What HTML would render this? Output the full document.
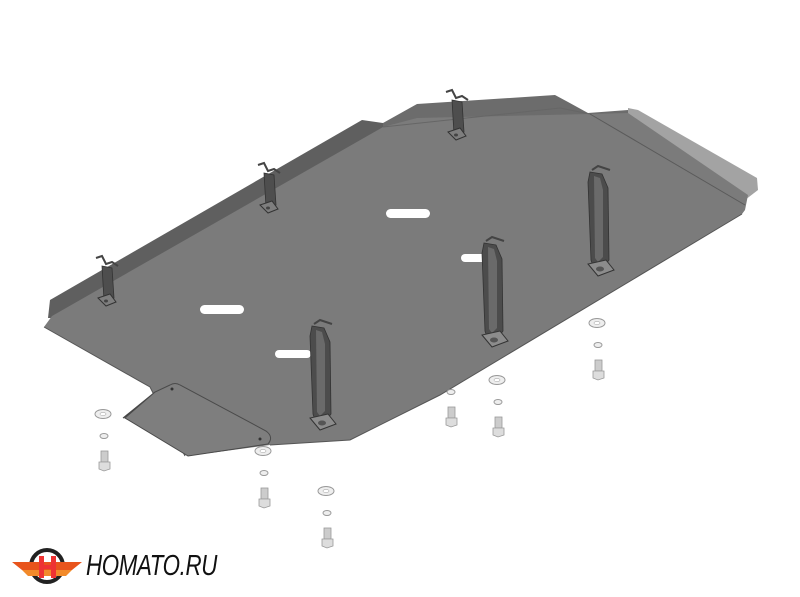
<!DOCTYPE html>
<html><head><meta charset="utf-8"><style>
html,body{margin:0;padding:0;background:#fff;width:800px;height:597px;overflow:hidden}
.logo{position:absolute;left:86px;top:550px;font-family:"Liberation Sans",sans-serif;font-style:italic;font-weight:normal;font-size:29px;color:#111;letter-spacing:-0.5px;transform:scaleX(0.77);transform-origin:left;white-space:nowrap}
</style></head><body>
<svg width="800" height="597" viewBox="0 0 800 597" style="position:absolute;left:0;top:0">
<defs>
<g id="tb">
 <path d="M0,0 L12,2 L18,16 L19,88 L13,96 L4,97 L1,88 L-2,10 Z" fill="#4c4c4c" stroke="#333" stroke-width="0.8"/>
 <path d="M4,4 L10,6 L13,18 L13,85 L8,90 L5,86 Z" fill="#6a6a6a"/>
 <path d="M2,-2 L8,-6 L20,-2" fill="none" stroke="#444" stroke-width="2"/>
 <path d="M-2,92 L8,104 L24,98 L16,88 Z" fill="#8c8c8c" stroke="#333" stroke-width="1"/>
 <ellipse cx="10" cy="97" rx="4" ry="2.5" fill="#555"/>
</g>
<g id="sb">
 <path d="M0,8 L10,10 L12,40 L8,46 L2,42 Z" fill="#4e4e4e" stroke="#333" stroke-width="0.8"/>
 <path d="M-6,0 L0,-2 L4,6 L10,4 L16,8" fill="none" stroke="#444" stroke-width="2"/>
 <path d="M-4,40 L4,48 L14,44 L8,36 Z" fill="#7e7e7e" stroke="#333" stroke-width="1"/>
 <ellipse cx="4" cy="43" rx="2" ry="1.5" fill="#444"/>
</g>
<g id="hw">
 <ellipse cx="0" cy="0" rx="8" ry="4.5" fill="#eee" stroke="#999" stroke-width="1"/>
 <ellipse cx="0" cy="0" rx="3" ry="1.6" fill="#fff" stroke="#aaa" stroke-width="0.6"/>
 <ellipse cx="1" cy="22" rx="4" ry="2.5" fill="#eee" stroke="#999" stroke-width="1"/>
 <rect x="-2" y="37" width="7" height="11" fill="#ccc" stroke="#999" stroke-width="0.8"/>
 <path d="M-4,48 L7,48 L7,55 L1,57 L-4,55 Z" fill="#ddd" stroke="#999" stroke-width="0.8"/>
</g>
</defs>
<polygon points="48,318 50,300 362,120 383,123 383,130 52,318" fill="#5f5f5f"/>
<polygon points="383,123 417,104 555,95 568,102 588,113 628,110 640,118 383,135" fill="#6c6c6c"/>
<polygon points="628,108 638,110 757,178 758,190 745,200 628,115" fill="#a3a3a3"/>
<polygon points="44,327 52,316 383,127 417,118 590,114 628,113 748,195 745,210 742,214 440,395 350,440 270,445 188,456 150,387" fill="#7b7b7b"/>
<polyline points="590,114 745,205" stroke="#5a5a5a" stroke-width="1" fill="none"/>
<polyline points="383,127 560,108 590,114" stroke="#666" stroke-width="1" fill="none"/>
<polyline points="44,327 150,387 185,456" stroke="#555" stroke-width="1" fill="none"/>
<polyline points="742,214 440,395 350,440 270,445" stroke="#555" stroke-width="1" fill="none"/>
<polygon points="155,392 125,417 123,418" fill="#5a5a5a" stroke="#444"/>
<path d="M170,385 Q175,382 180,385 L266,431 Q274,437 268,444 L188,456 L125,418 L155,392 Z" fill="#7e7e7e" stroke="#4a4a4a" stroke-width="1"/>
<circle cx="172" cy="389" r="1.5" fill="#333"/><circle cx="260" cy="439" r="1.5" fill="#333"/>
<rect x="200" y="305" width="44" height="9" rx="4.5" fill="#fff"/>
<rect x="386" y="209" width="44" height="9" rx="4.5" fill="#fff"/>
<rect x="275" y="350" width="36" height="8" rx="4" fill="#fff"/>
<rect x="461" y="254" width="32" height="8" rx="4" fill="#fff"/>
<use href="#sb" x="102" y="258"/>
<use href="#sb" x="264" y="165"/>
<use href="#sb" x="452" y="92"/>
<use href="#tb" x="312" y="326"/>
<use href="#tb" x="484" y="243"/>
<use href="#tb" x="590" y="172"/>
<use href="#hw" x="103" y="414"/>
<use href="#hw" x="263" y="451"/>
<use href="#hw" x="326" y="491"/>
<use href="#hw" x="497" y="380"/>
<use href="#hw" x="597" y="323"/>
<ellipse cx="451" cy="392" rx="4" ry="2.5" fill="#eee" stroke="#999"/>
<rect x="448" y="407" width="7" height="11" fill="#ccc" stroke="#999" stroke-width="0.8"/>
<path d="M446,418 L457,418 L457,425 L451,427 L446,425 Z" fill="#ddd" stroke="#999" stroke-width="0.8"/>
<circle cx="47" cy="566" r="16" fill="none" stroke="#222" stroke-width="4"/>
<polygon points="12,562 82,562 72,570 22,570" fill="#e8541c"/>
<polygon points="22,570 72,570 66,576 28,576" fill="#f28a2a"/>
<rect x="39" y="556" width="5" height="22" fill="#e33"/><rect x="51" y="556" width="5" height="22" fill="#e33"/>
<rect x="39" y="565" width="17" height="4" fill="#e33"/>
</svg>
<div class="logo">HOMATO.RU</div>
</body></html>
